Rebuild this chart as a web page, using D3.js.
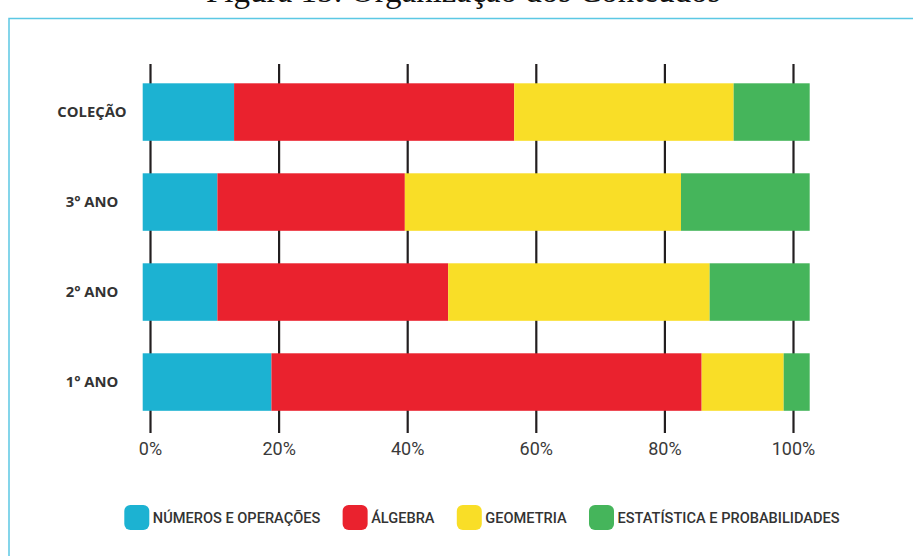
<!DOCTYPE html>
<html>
<head>
<meta charset="utf-8">
<script src="https://cdn.jsdelivr.net/npm/d3@7"></script>
<style>
  html, body { margin: 0; padding: 0; background: #fff; }
  svg { display: block; }
</style>
</head>
<body>
<svg id="chart" width="913" height="556"></svg>
<script>
// Distribution of content areas per school year (percent of each bar)
const categories = ["COLEÇÃO", "3° ANO", "2° ANO", "1° ANO"];
const seriesNames = ["NÚMEROS E OPERAÇÕES", "ÁLGEBRA", "GEOMETRIA", "ESTATÍSTICA E PROBABILIDADES"];
const numeros     = [13.7, 11.2, 11.2, 19.3];
const algebra     = [42.0, 28.1, 34.6, 64.5];
const geometria   = [32.9, 41.4, 39.2, 12.3];
const estatistica = [11.4, 19.3, 15.0, 3.9];
const tickValues  = [0, 20, 40, 60, 80, 100];
const caption = "Figura 15: Organização dos Conteúdos";

const colors = ["#1cb2d2", "#ea222e", "#f9de27", "#45b55b"];

const svg = d3.select("#chart");

// Caption above the frame (its upper part runs off the page top)
svg.append("text")
  .attr("x", 206).attr("y", 1.5)
  .attr("font-family", "'Liberation Serif', 'Times New Roman', serif")
  .attr("font-size", 33)
  .attr("fill", "#111")
  .text(caption);

svg.append("path")
  .attr("d", "M9,556 L9,18.5 L913,18.5")
  .attr("fill", "none")
  .attr("stroke", "#5cc8e4")
  .attr("stroke-width", 1.5);

// Scales: bars span the full plot band, axis gridlines sit slightly inside
const xBar  = d3.scaleLinear().domain([0, 100]).range([142.7, 809.7]);
const xAxis = d3.scaleLinear().domain([0, 100]).range([150, 793]);
const y = d3.scaleBand().domain(categories).range([83.3, 410.8]).paddingInner(0.361).paddingOuter(0);

const gridTop = 64, gridBottom = 433;

// Axis with full-height gridlines
const axis = d3.axisBottom(xAxis)
  .tickValues(tickValues)
  .tickFormat(d => d + "%")
  .tickSizeInner(-(gridBottom - gridTop))
  .tickSizeOuter(0)
  .tickPadding(9);

const axisG = svg.append("g")
  .attr("transform", `translate(0,${gridBottom})`)
  .call(axis);
axisG.select(".domain").remove();
axisG.selectAll(".tick line")
  .attr("stroke", "#231f20")
  .attr("stroke-width", 2.2);
axisG.selectAll(".tick text")
  .attr("font-family", "Roboto, sans-serif")
  .attr("font-size", 18)
  .attr("font-weight", 400)
  .attr("fill", "#3a3a3a")
  .attr("y", 9)
  .attr("dy", "0.71em");

// Stacked bars
const rows = categories.map((c, i) => ({
  cat: c,
  "NÚMEROS E OPERAÇÕES": numeros[i],
  "ÁLGEBRA": algebra[i],
  "GEOMETRIA": geometria[i],
  "ESTATÍSTICA E PROBABILIDADES": estatistica[i]
}));
const stacked = d3.stack().keys(seriesNames)(rows);

svg.append("g").selectAll("g")
  .data(stacked)
  .join("g")
  .attr("fill", (d, i) => colors[i])
  .selectAll("rect")
  .data(d => d)
  .join("rect")
  .attr("x", d => xBar(d[0]))
  .attr("width", d => xBar(d[1]) - xBar(d[0]))
  .attr("y", d => y(d.data.cat))
  .attr("height", y.bandwidth());

// Category labels
svg.append("g").selectAll("text")
  .data(categories)
  .join("text")
  .attr("x", 92)
  .attr("y", d => y(d) + y.bandwidth() / 2)
  .attr("dy", "0.35em")
  .attr("text-anchor", "middle")
  .attr("font-family", "'Open Sans', sans-serif")
  .attr("font-weight", 700)
  .attr("font-size", 14.8)
  .attr("fill", "#333")
  .text(d => d);

// Legend
const legend = svg.append("g").attr("transform", "translate(124.3,505)");
let lx = 0;
seriesNames.forEach((name, i) => {
  const g = legend.append("g").attr("transform", `translate(${lx},0)`);
  g.append("rect")
    .attr("width", 25).attr("height", 25)
    .attr("rx", 6).attr("ry", 6)
    .attr("fill", colors[i]);
  const t = g.append("text")
    .attr("x", 28.5)
    .attr("y", 12.5)
    .attr("dy", "0.36em")
    .attr("font-family", "Roboto, sans-serif")
    .attr("font-weight", 500)
    .attr("font-size", 14.6)
    .attr("fill", "#333")
    .text(name);
  lx += 28.5 + t.node().getComputedTextLength() + 22.3;
});
</script>
</body>
</html>
